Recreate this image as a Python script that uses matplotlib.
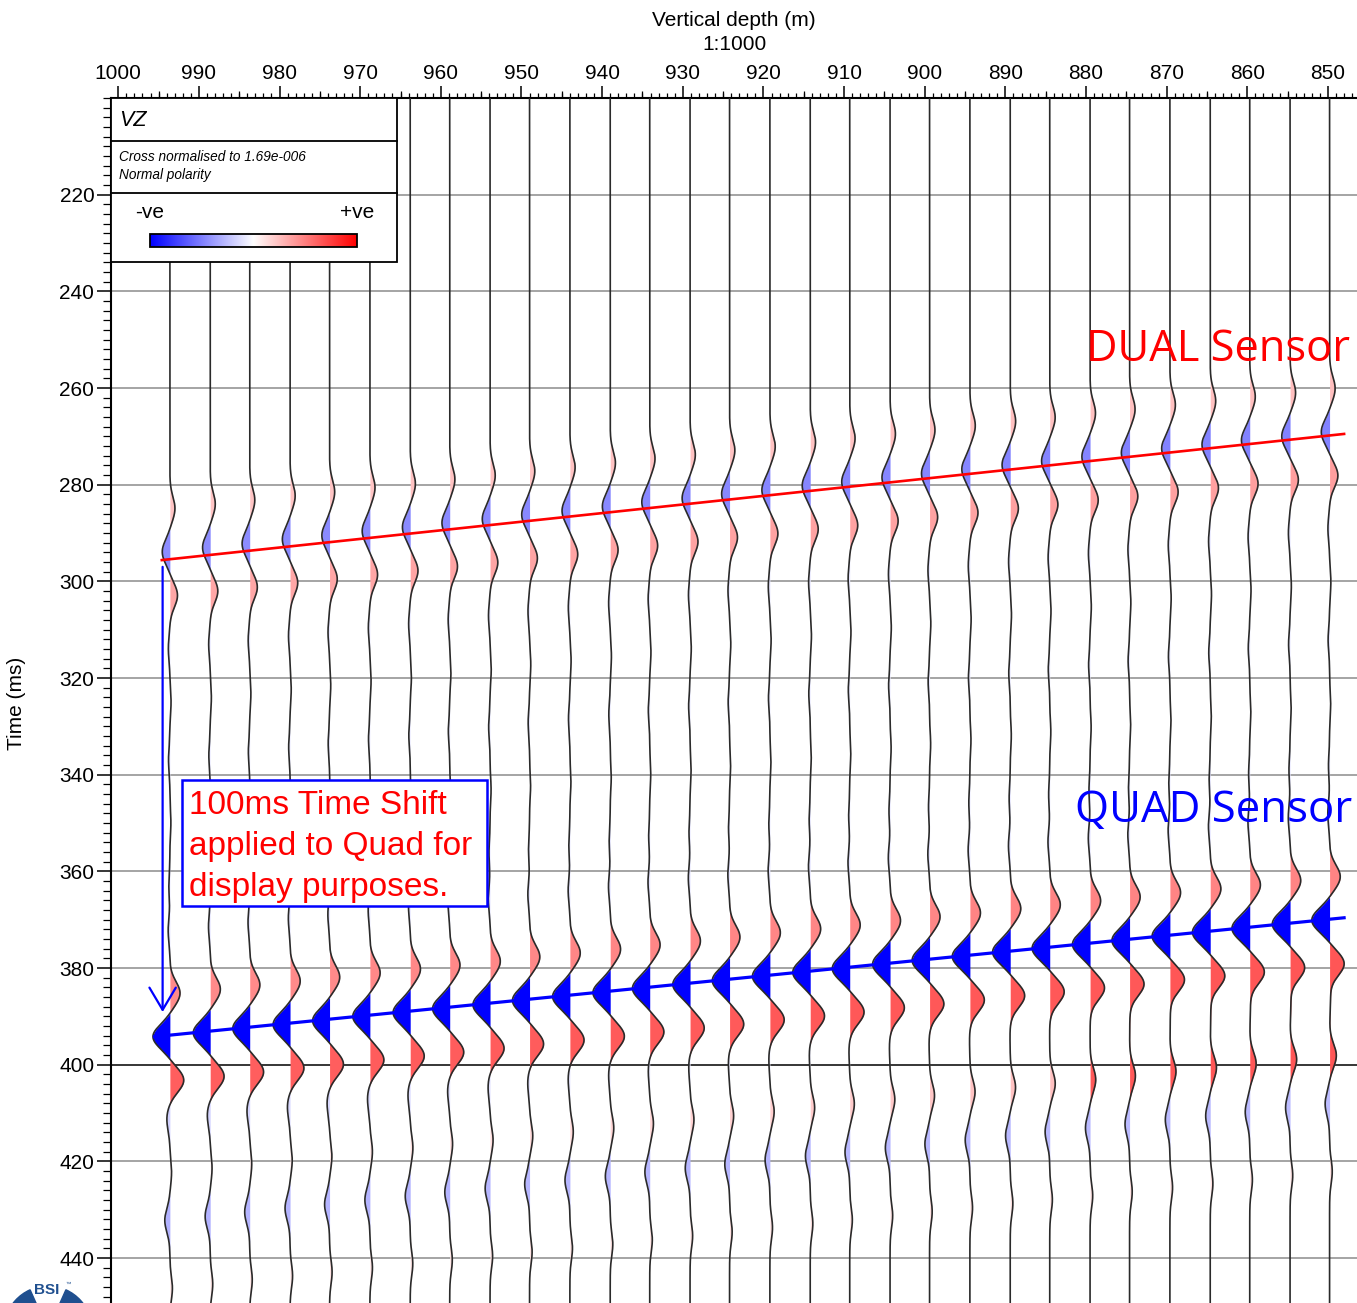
import numpy as np
import matplotlib.pyplot as plt
from matplotlib.colors import LinearSegmentedColormap, TwoSlopeNorm
from matplotlib.patches import Rectangle, Wedge
from matplotlib.ticker import MultipleLocator

plt.rcParams['font.family'] = ['Liberation Sans', 'DejaVu Sans']

W, H = 1357, 1303

# receiver depths (m), one per trace
depths = [993.6, 988.6, 983.7, 978.7, 973.8, 968.8, 963.8, 958.9, 953.9, 949.0,
          944.0, 939.0, 934.1, 929.1, 924.2, 919.2, 914.2, 909.3, 904.3, 899.4,
          894.4, 889.4, 884.5, 879.5, 874.6, 869.6, 864.6, 859.7, 854.7, 849.8]

# trough times (ms) of the dual sensor arrival and of the shifted quad arrival
dual_times = [293.9, 293.0, 292.2, 291.3, 290.5, 289.6, 288.8, 287.9, 287.1, 286.2,
              285.4, 284.5, 283.6, 282.8, 281.9, 281.1, 280.2, 279.4, 278.5, 277.7,
              276.8, 275.9, 275.1, 274.2, 273.4, 272.5, 271.7, 270.8, 270.0, 269.1]
quad_times = [394.2, 393.4, 392.5, 391.7, 390.9, 390.0, 389.2, 388.4, 387.6, 386.7,
              385.9, 385.1, 384.2, 383.4, 382.6, 381.7, 380.9, 380.1, 379.2, 378.4,
              377.6, 376.7, 375.9, 375.1, 374.3, 373.4, 372.6, 371.8, 370.9, 370.1]
dual_amps = [1.00, 1.00, 1.00, 1.01, 1.01, 1.01, 1.02, 1.02, 1.02, 1.03,
             1.03, 1.03, 1.04, 1.04, 1.04, 1.05, 1.05, 1.05, 1.06, 1.06,
             1.06, 1.07, 1.07, 1.07, 1.08, 1.08, 1.08, 1.09, 1.09, 1.09]
quad_amps = [1.00, 1.00, 1.00, 1.00, 1.00, 1.01, 1.01, 1.01, 1.01, 1.01,
             1.02, 1.02, 1.02, 1.02, 1.02, 1.03, 1.03, 1.03, 1.03, 1.03,
             1.04, 1.04, 1.04, 1.04, 1.04, 1.05, 1.05, 1.05, 1.05, 1.05]

# wavelet lobes: offset from trough (ms) and relative amplitude
dual_offsets = [-9, 0, 9, 20, 31, 43, 56, 69]
dual_lobes = [0.30, -0.45, 0.45, -0.09, 0.07, -0.08, 0.06, -0.06]
quad_offsets = [-22, -9, 0, 9, 17, 28, 38, 52]
quad_lobes_left = [-0.10, 0.60, -1.00, 0.82, -0.18, 0.10, -0.30, 0.15]
quad_lobes_right = [-0.10, 0.60, -1.00, 0.82, 0.05, 0.38, -0.25, 0.15]
lobe_width = 3.4

# picked lines and the time-shift arrow
dual_pick_depth = [994.6, 848.0]
dual_pick_time = [295.6, 269.5]
quad_pick_depth = [995.5, 848.0]
quad_pick_time = [394.2, 369.6]
shift_depth = 994.5
shift_time = [297.0, 389.1]

GAIN = 2.1  # m of deflection per unit amplitude

cmap = LinearSegmentedColormap.from_list('pol', ['#0000ff', '#ffffff', '#ff0000'])
norm = TwoSlopeNorm(vmin=-1.0, vcenter=0.0, vmax=1.3)


def fx(px):
    return px / W


def fy(py):
    return 1 - py / H


def make_trace(t, i):
    s = np.zeros_like(t)
    for off, a in zip(dual_offsets, dual_lobes):
        s += dual_amps[i] * a * np.exp(-((t - dual_times[i] - off) / lobe_width) ** 2)
    w = i / (len(depths) - 1)
    for off, al, ar in zip(quad_offsets, quad_lobes_left, quad_lobes_right):
        a = al * (1 - w) + ar * w
        s += quad_amps[i] * a * np.exp(-((t - quad_times[i] - off) / lobe_width) ** 2)
    return s


def fill_lobes(ax, t, s, d):
    pos = (s > 0).astype(int)
    edges = np.flatnonzero(np.diff(pos)) + 1
    bounds = np.concatenate([[0], edges, [len(s)]])
    for a, b in zip(bounds[:-1], bounds[1:]):
        seg = s[a:b]
        peak = seg[np.argmax(np.abs(seg))]
        if abs(peak) < 0.01:
            continue
        lo, hi = max(a - 1, 0), min(b + 1, len(s))
        ax.fill_betweenx(t[lo:hi], d, d - GAIN * s[lo:hi], color=cmap(norm(peak)),
                         lw=0, zorder=2)


fig = plt.figure(figsize=(W / 100, H / 100), dpi=100)
ax = fig.add_axes([fx(111), 0, fx(W - 111), (H - 98) / H])

t = np.arange(200, 450.05, 0.1)
for i, d in enumerate(depths):
    s = make_trace(t, i)
    fill_lobes(ax, t, s, d)
    ax.plot(d - GAIN * s, t, color='#2a2a2a', lw=1.2, zorder=3)

ax.plot(dual_pick_depth, dual_pick_time, color='#ff0000', lw=1.9, zorder=4)
ax.plot(quad_pick_depth, quad_pick_time, color='#0000ff', lw=2.3, zorder=4)
ax.annotate('', xy=(shift_depth, shift_time[1]), xytext=(shift_depth, shift_time[0]),
            arrowprops=dict(arrowstyle='->,head_length=1.6,head_width=0.95', color='#0000ff',
                            lw=1.6, shrinkA=0, shrinkB=0, mutation_scale=10), zorder=4)

ax.set_xlim(1000.9, 846.4)
ax.set_ylim(449.3, 200)
ax.xaxis.set_ticks_position('top')
ax.set_xticks(np.arange(1000, 845, -10))
ax.xaxis.set_minor_locator(MultipleLocator(1))
ax.set_yticks(np.arange(220, 441, 20))
ax.yaxis.set_minor_locator(MultipleLocator(2))
ax.tick_params(axis='x', which='major', length=8.6, width=1.1, labelsize=15, pad=2)
ax.tick_params(axis='x', which='minor', length=3.6, width=0.9)
ax.tick_params(axis='y', which='major', length=10, width=1.1, labelsize=15, pad=2)
ax.tick_params(axis='y', which='minor', length=5.5, width=0.9)
for side in ['right', 'bottom']:
    ax.spines[side].set_visible(False)
for side in ['top', 'left']:
    ax.spines[side].set_linewidth(1.5)

sec = ax.secondary_xaxis('top')
sec.set_xticks(np.arange(995, 845, -10))
sec.set_xticklabels([])
sec.tick_params(length=5.2, width=0.9)
sec.spines['top'].set_visible(False)

ax.set_axisbelow(True)
ax.grid(axis='y', which='major', color='#8c8c8c', lw=1.1)
for line, tick in zip(ax.get_ygridlines(), ax.get_yticks()):
    if tick == 400:
        line.set_color('black')

fig.text(fx(734), fy(20), 'Vertical depth (m)', ha='center', va='center', size=15)
fig.text(fx(734), fy(45), '1:1000', ha='center', va='center', size=15)
fig.text(fx(17), fy(703), 'Time (ms)', rotation=90, ha='center', va='center', size=15)

# overlay in pixel coordinates
ov = fig.add_axes([0, 0, 1, 1], zorder=5)
ov.set_xlim(0, W)
ov.set_ylim(H, 0)
ov.axis('off')

ov.add_patch(Rectangle((111, 98), 286, 164, fc='white', ec='black', lw=1.3, zorder=1))
ov.plot([111, 397], [141, 141], color='black', lw=1.3, zorder=2)
ov.plot([111, 397], [193, 193], color='black', lw=1.3, zorder=2)
ov.text(119, 126, 'VZ', style='italic', size=15.5, va='baseline')
ov.text(119, 161, 'Cross normalised to 1.69e-006', style='italic', size=9.8, va='baseline')
ov.text(119, 179, 'Normal polarity', style='italic', size=9.8, va='baseline')
ov.text(150, 218, '-ve', size=15, ha='center', va='baseline')
ov.text(357, 218, '+ve', size=15, ha='center', va='baseline')
ov.imshow(np.linspace(0, 1, 256)[None, :], cmap=cmap, aspect='auto',
          extent=(150, 357, 247, 234), zorder=3)
ov.add_patch(Rectangle((150, 234), 207, 13, fc='none', ec='black', lw=1.3, zorder=4))
ov.set_xlim(0, W)
ov.set_ylim(H, 0)

ov.add_patch(Rectangle((182, 780), 305, 126, fc='white', ec='#0000ff', lw=1.8, zorder=1))
for y, line in zip([814, 855, 896],
                   ['100ms Time Shift', 'applied to Quad for', 'display purposes.']):
    ov.text(189, y, line, color='#ff0000', size=24, va='baseline')

ov.text(1086, 361, 'DUAL Sensor', color='#ff0000', size=31.3, va='baseline',
        family=['Open Sans', 'DejaVu Sans'])
ov.text(1075, 822, 'QUAD Sensor', color='#0000ff', size=31.5, va='baseline',
        family=['Open Sans', 'DejaVu Sans'])

logo = '#1f4f8f'
ov.add_patch(Wedge((48, 1330), 44, 150, 246, width=16, color=logo))
ov.add_patch(Wedge((48, 1330), 44, 294, 390, width=16, color=logo))
ov.text(47, 1290, 'BSI', color=logo, size=11, weight='bold', ha='center', va='center')
ov.text(68, 1284, '\u2122', color=logo, size=4, ha='center', va='center')

fig.savefig('out.png', dpi=100)
